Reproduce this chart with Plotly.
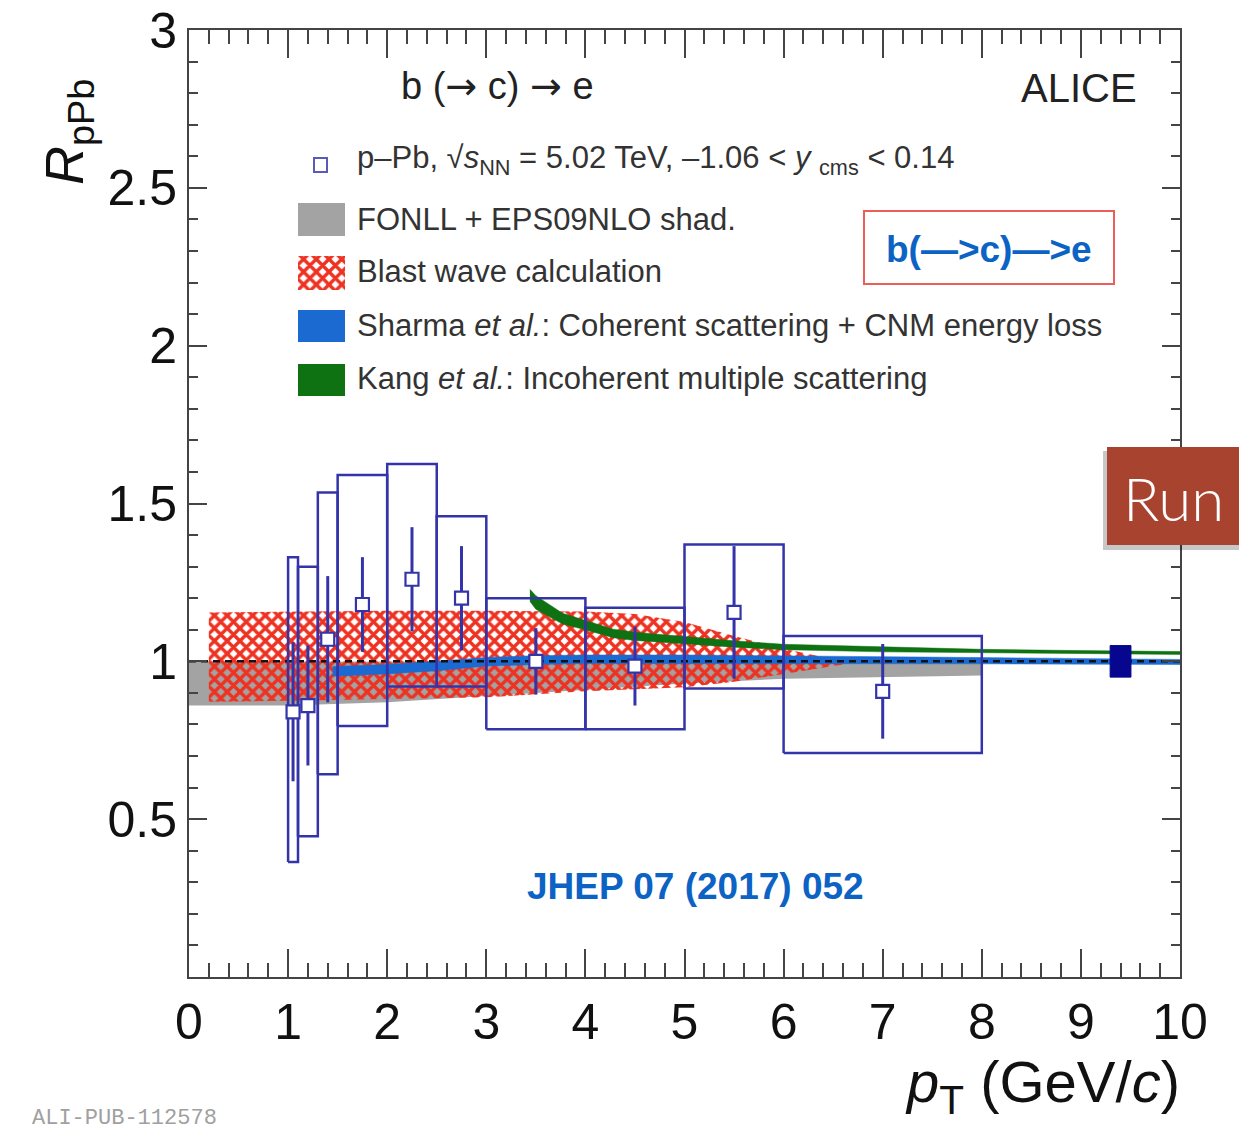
import plotly.graph_objects as go

# ---- measured b(->c)->e R_pPb, p-Pb 5.02 TeV ----
pt_lo = [1.0, 1.1, 1.3, 1.5, 2.0, 2.5, 3.0, 4.0, 5.0, 6.0]
pt_hi = [1.1, 1.3, 1.5, 2.0, 2.5, 3.0, 4.0, 5.0, 6.0, 8.0]
pt_c = [1.05, 1.2, 1.4, 1.75, 2.25, 2.75, 3.5, 4.5, 5.5, 7.0]
rppb = [0.84, 0.86, 1.07, 1.18, 1.26, 1.20, 1.00, 0.985, 1.155, 0.905]
stat_err = [0.22, 0.19, 0.20, 0.15, 0.165, 0.165, 0.105, 0.125, 0.21, 0.15]
sys_lo = [0.364, 0.446, 0.642, 0.795, 0.92, 0.92, 0.785, 0.785, 0.914, 0.71]
sys_hi = [1.33, 1.30, 1.535, 1.59, 1.625, 1.46, 1.20, 1.17, 1.37, 1.08]

# normalisation uncertainty
norm_pt = 9.4
norm_halfwidth = 0.105
norm_unc = 0.05

# ---- model bands ----
fonll_pt = [0, 1, 2, 3, 4, 5, 6, 7, 8]
fonll_lo = [0.86, 0.86, 0.87, 0.89, 0.91, 0.93, 0.945, 0.95, 0.955]
fonll_hi = [1.0, 1.0, 1.0, 1.0, 0.998, 0.997, 0.996, 0.996, 0.996]

bw_pt = [0.2, 1.0, 2.0, 3.0, 4.0, 4.5, 5.0, 5.5, 6.0, 6.3, 6.6]
bw_lo = [0.872, 0.875, 0.88, 0.886, 0.905, 0.912, 0.918, 0.935, 0.96, 0.975, 0.99]
bw_hi = [1.155, 1.158, 1.16, 1.16, 1.158, 1.15, 1.125, 1.08, 1.04, 1.02, 1.0]

sharma_pt = [1.45, 2.0, 2.5, 3.0, 3.5, 4.0, 5.0, 6.0, 8.0, 10.0]
sharma_lo = [0.953, 0.96, 0.97, 0.985, 0.99, 0.993, 0.993, 0.993, 0.992, 0.99]
sharma_hi = [0.984, 0.99, 1.0, 1.012, 1.018, 1.02, 1.02, 1.018, 1.012, 1.006]

kang_pt = [3.44, 3.5, 3.77, 4.0, 4.28, 4.5, 5.0, 5.5, 6.0, 7.0, 8.0, 9.0, 10.0]
kang_lo = [1.19, 1.165, 1.118, 1.10, 1.075, 1.066, 1.056, 1.045, 1.037, 1.03, 1.026, 1.024, 1.022]
kang_hi = [1.228, 1.208, 1.152, 1.13, 1.102, 1.092, 1.078, 1.065, 1.054, 1.045, 1.038, 1.034, 1.031]

x_ticks = list(range(0, 11))
y_ticks = [0.5, 1.0, 1.5, 2.0, 2.5, 3.0]
y_ticklabels = ["0.5", "1", "1.5", "2", "2.5", "3"]

# ---- styling ----
FONT = "Liberation Sans"
DATA_BLUE = "#3434aa"
GREY = "#a3a3a3"
RED = "#ee3222"
SHARMA_BLUE = "#1a6ad2"
KANG_GREEN = "#0e7212"
LINK_BLUE = "#0c63c4"
HATCH = dict(shape="x", fgcolor=RED, bgcolor="rgba(0,0,0,0)", fgopacity=1,
             size=9, solidity=0.62)

W, H = 1239, 1134
PX0, PX1, PY0, PY1 = 189, 1180, 30, 977


def paper_x(px):
    return (px - PX0) / (PX1 - PX0)


def paper_y(py):
    return (PY1 - py) / (PY1 - PY0)


def band(x, lo, hi):
    """Closed polygon for a lower/upper band."""
    return list(x) + list(x)[::-1], list(hi) + list(lo)[::-1]


fig = go.Figure()

bx, by = band(fonll_pt, fonll_lo, fonll_hi)
fig.add_trace(go.Scatter(x=bx, y=by, fill="toself", mode="lines",
                         line=dict(width=0), fillcolor=GREY, hoverinfo="skip"))

bx, by = band(bw_pt, bw_lo, bw_hi)
fig.add_trace(go.Scatter(x=bx, y=by, fill="toself", mode="lines",
                         line=dict(width=0), fillcolor="rgba(0,0,0,0)",
                         fillpattern=HATCH, hoverinfo="skip"))

bx, by = band(sharma_pt, sharma_lo, sharma_hi)
fig.add_trace(go.Scatter(x=bx, y=by, fill="toself", mode="lines",
                         line=dict(width=0.5, color=SHARMA_BLUE), fillcolor=SHARMA_BLUE,
                         hoverinfo="skip"))

# unity reference
fig.add_trace(go.Scatter(x=[x_ticks[0], x_ticks[-1]], y=[1.0, 1.0], mode="lines",
                         line=dict(color="#111111", width=2.5, dash="7px,5px"),
                         hoverinfo="skip"))

bx, by = band(kang_pt, kang_lo, kang_hi)
fig.add_trace(go.Scatter(x=bx, y=by, fill="toself", mode="lines",
                         line=dict(width=0.5, color=KANG_GREEN), fillcolor=KANG_GREEN,
                         hoverinfo="skip"))

# systematic-uncertainty boxes
box_x, box_y = [], []
for lo, hi, ylo, yhi in zip(pt_lo, pt_hi, sys_lo, sys_hi):
    box_x += [lo, hi, hi, lo, lo, None]
    box_y += [ylo, ylo, yhi, yhi, ylo, None]
fig.add_trace(go.Scatter(x=box_x, y=box_y, mode="lines",
                         line=dict(color=DATA_BLUE, width=2.5), hoverinfo="skip"))

# data points with statistical errors
fig.add_trace(go.Scatter(
    x=pt_c, y=rppb, mode="markers",
    marker=dict(symbol="square", size=13, color="white",
                line=dict(color=DATA_BLUE, width=2.2)),
    error_y=dict(type="data", array=stat_err, color=DATA_BLUE, thickness=3, width=0),
))

# normalisation box
fig.add_trace(go.Scatter(
    x=[norm_pt - norm_halfwidth, norm_pt + norm_halfwidth, norm_pt + norm_halfwidth,
       norm_pt - norm_halfwidth, norm_pt - norm_halfwidth],
    y=[1 - norm_unc, 1 - norm_unc, 1 + norm_unc, 1 + norm_unc, 1 - norm_unc],
    fill="toself", mode="lines", line=dict(width=1, color="#06068e"),
    fillcolor="#06068e", hoverinfo="skip"))

# hatched legend key lives on an overlay axis in pixel units
fig.add_trace(go.Scatter(
    x=[298, 345, 345, 298, 298], y=[256, 256, 290, 290, 256],
    xaxis="x2", yaxis="y2", fill="toself", mode="lines", line=dict(width=0),
    fillcolor="rgba(0,0,0,0)", fillpattern=HATCH, hoverinfo="skip"))

axis_common = dict(showline=True, linewidth=2, linecolor="#444444", mirror="allticks",
                   ticks="inside", tickwidth=2, tickcolor="#444444", showgrid=False,
                   zeroline=False, automargin=False,
                   tickfont=dict(family=FONT, size=50, color="#111111"))

fig.update_layout(
    width=W, height=H,
    margin=dict(l=PX0, r=W - PX1, t=PY0, b=H - PY1),
    paper_bgcolor="white", plot_bgcolor="white",
    showlegend=False,
    xaxis=dict(range=[0, 10], tickmode="array", tickvals=x_ticks, ticklen=28,
               minor=dict(ticks="inside", dtick=0.2, ticklen=14, tickwidth=2,
                          tickcolor="#444444"),
               **axis_common),
    yaxis=dict(range=[0, 3], tickmode="array", tickvals=y_ticks, ticktext=y_ticklabels,
               ticklen=18,
               minor=dict(ticks="inside", dtick=0.1, ticklen=9, tickwidth=2,
                          tickcolor="#444444"),
               **axis_common),
    xaxis2=dict(overlaying="x", range=[PX0, PX1], visible=False, anchor="y2"),
    yaxis2=dict(overlaying="y", range=[PY1, PY0], visible=False, anchor="x2"),
)

shapes = []
annotations = []


def text(px, py, s, size, anchor="left", color="#333333", family=FONT, **kw):
    annotations.append(dict(x=paper_x(px), y=paper_y(py), xref="paper", yref="paper",
                            text=s, showarrow=False, xanchor=anchor, yanchor="middle",
                            font=dict(family=family, size=size, color=color, **kw.pop("font", {})),
                            **kw))


def rect(x0, y0, x1, y1, **kw):
    shapes.append(dict(type="rect", xref="paper", yref="paper",
                       x0=paper_x(x0), x1=paper_x(x1), y0=paper_y(y1), y1=paper_y(y0), **kw))


ARROW = '<span style="font-family:DejaVu Sans">→</span>'

# headers
text(497, 86, f"b ({ARROW} c) {ARROW} e", 38, anchor="center", color="#222222")
text(1139, 88, "ALICE", 40, anchor="right", color="#222222")

# legend
rect(314, 158, 327, 172, line=dict(color="#5a5ab8", width=2), fillcolor="white")
text(355, 160, "p–Pb, √<i>s</i><sub>NN</sub> = 5.02 TeV, –1.06 &lt; <i>y</i> <sub>cms</sub> &lt; 0.14", 31)
rect(298, 203, 345, 236, line=dict(width=0), fillcolor=GREY)
text(355, 219, "FONLL + EPS09NLO shad.", 31)
text(355, 272, "Blast wave calculation", 31)
rect(298, 310, 345, 342, line=dict(width=0), fillcolor=SHARMA_BLUE)
text(355, 325, "Sharma <i>et al.</i>: Coherent scattering + CNM energy loss", 31)
rect(298, 364, 345, 396, line=dict(width=0), fillcolor=KANG_GREEN)
text(355, 379, "Kang <i>et al.</i>: Incoherent multiple scattering", 31)

# highlighted channel label
rect(864, 211, 1114, 284, line=dict(color="#eb5f58", width=2), fillcolor="white")
text(989, 249, "<b>b(—&gt;c)—&gt;e</b>", 37, anchor="center", color=LINK_BLUE)

# reference
text(695, 886, "<b>JHEP 07 (2017) 052</b>", 37, anchor="center", color=LINK_BLUE)

# side tab
rect(1103, 451, 1245, 550, line=dict(width=0), fillcolor="rgba(0,0,0,0.22)")
rect(1107, 447, 1245, 545, line=dict(width=0), fillcolor="#a8432f")
text(1121, 498, "Run", 60, color="white", family="Lato", font=dict(weight=300))

# axis titles
annotations.append(dict(x=paper_x(68), y=paper_y(132), xref="paper", yref="paper",
                        text="<i>R</i><sub>pPb</sub>", showarrow=False, textangle=-90,
                        xanchor="center", yanchor="middle",
                        font=dict(family=FONT, size=54, color="#111111")))
text(1182, 1086, "<i>p</i><sub>T</sub> (GeV/<i>c</i>)", 58, anchor="right", color="#111111")

# figure id
text(30, 1118, "ALI-PUB-112578", 22, color="#a0a0a0", family="Liberation Mono")

fig.update_layout(shapes=shapes, annotations=annotations)
fig.write_html("out.html")
